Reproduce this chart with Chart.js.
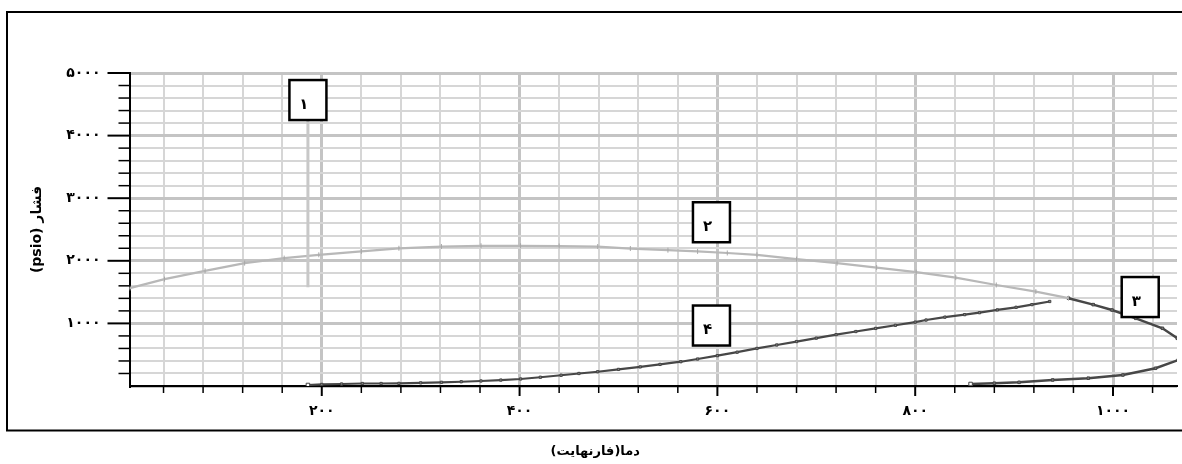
<!DOCTYPE html>
<html><head><meta charset="utf-8">
<script src="https://cdn.jsdelivr.net/npm/chart.js@4/dist/chart.umd.min.js"></script>
<style>html,body{margin:0;padding:0;background:#fff;overflow:hidden}</style>
</head><body>
<canvas id="c" width="1182" height="464"></canvas>
<script>
// ---- data ----
const xTickValues = [40,80,120,160,200,240,280,320,360,400,440,480,520,560,600,640,680,720,760,800,840,880,920,960,1000,1040];
const xTickLabels = {200:'۲۰۰',400:'۴۰۰',600:'۶۰۰',800:'۸۰۰',1000:'۱۰۰۰'};
const yTickLabels = {1000:'۱۰۰۰',2000:'۲۰۰۰',3000:'۳۰۰۰',4000:'۴۰۰۰',5000:'۵۰۰۰'};
const xTitle = 'دما(فارنهایت)';
const yTitle = '(psio) فشار';

const line1X = [186, 186];
const line1Y = [1576, 4400];

const curve2X = [0, 6, 41, 82, 122, 162, 197, 240, 278, 321, 361, 401, 440, 479, 512, 550, 580, 610, 640, 680, 721, 761, 801, 841, 882, 922, 955];
const curve2Y = [1543, 1563, 1707, 1840, 1963, 2043, 2096, 2150, 2200, 2228, 2240, 2240, 2236, 2228, 2196, 2170, 2150, 2125, 2096, 2027, 1963, 1892, 1818, 1731, 1614, 1508, 1403];

const curve3X = [955, 980, 999, 1023, 1050, 1065, 1078, 1082, 1078, 1066, 1043, 1010, 975, 939, 905, 880, 856];
const curve3Y = [1403, 1300, 1214, 1081, 922, 762, 640, 560, 480, 415, 283, 176, 125, 96, 59, 45, 32];

const curve4X = [186, 200, 220, 241, 260, 278, 300, 321, 341, 361, 381, 401, 421, 442, 460, 479, 500, 522, 542, 563, 580, 600, 620, 640, 660, 680, 700, 720, 740, 760, 780, 800, 811, 830, 850, 865, 883, 902, 918, 936];
const curve4Y = [16, 25, 32, 40, 40, 42, 50, 59, 68, 80, 95, 112, 140, 172, 200, 228, 265, 305, 345, 388, 431, 485, 540, 600, 655, 710, 765, 820, 870, 920, 970, 1020, 1054, 1100, 1140, 1171, 1215, 1257, 1300, 1350];

const boxLabels = ['۱', '۲', '۳', '۴'];
const boxX = [186, 594, 1027.5, 594];
const boxY = [4568, 2616, 1421, 966];

// ---- helpers ----
const pts = (xs, ys) => xs.map((x, i) => ({x: x, y: ys[i]}));
const FONT = 'DejaVu Sans';

const decor = {
  id: 'decor',
  beforeDraw(chart) {
    const ctx = chart.ctx;
    ctx.save();
    ctx.fillStyle = '#fff';
    ctx.fillRect(0, 0, chart.width, chart.height);
    ctx.strokeStyle = '#000';
    ctx.lineWidth = 2;
    ctx.strokeRect(7, 12, 1220, 418.5);
    ctx.restore();
  },
  afterDatasetsDraw(chart) {
    const ctx = chart.ctx;
    const xs = chart.scales.x, ys = chart.scales.y;
    const area = chart.chartArea;
    ctx.save();
    ctx.strokeStyle = '#000';
    // y tick marks
    ys.ticks.forEach(t => {
      if (t.value === 0) return;
      const py = ys.getPixelForValue(t.value);
      const major = t.value % 1000 === 0;
      ctx.lineWidth = major ? 2 : 1.5;
      ctx.beginPath();
      ctx.moveTo(area.left - (major ? 22 : 11), py);
      ctx.lineTo(area.left, py);
      ctx.stroke();
    });
    // x tick marks
    xs.ticks.forEach(t => {
      const px = xs.getPixelForValue(t.value);
      const major = t.value % 200 === 0;
      ctx.lineWidth = major ? 2 : 1.5;
      ctx.beginPath();
      ctx.moveTo(px, area.bottom);
      ctx.lineTo(px, area.bottom + (major ? 10 : 7));
      ctx.stroke();
    });
    // numbered boxes
    const w = 37, h = 40;
    boxLabels.forEach((lab, i) => {
      const cx = xs.getPixelForValue(boxX[i]);
      const cy = ys.getPixelForValue(boxY[i]);
      ctx.fillStyle = '#fff';
      ctx.fillRect(cx - w / 2, cy - h / 2, w, h);
      ctx.lineWidth = 2.5;
      ctx.strokeStyle = '#000';
      ctx.strokeRect(cx - w / 2, cy - h / 2, w, h);
      ctx.fillStyle = '#000';
      ctx.font = 'bold 15px "' + FONT + '"';
      ctx.textAlign = 'center';
      ctx.textBaseline = 'middle';
      ctx.fillText(lab, cx - 4, cy + 5);
    });
    // x axis title (right-to-left text)
    ctx.direction = 'rtl';
    ctx.font = 'bold 13px "' + FONT + '"';
    ctx.fillStyle = '#000';
    ctx.textBaseline = 'middle';
    ctx.textAlign = 'center';
    ctx.fillText(xTitle, (area.left + area.right) / 2 - 58, chart.height - 12);
    ctx.restore();
  }
};

const gridColor = major => major ? '#c4c4c4' : '#d6d6d6';

new Chart(document.getElementById('c'), {
  type: 'scatter',
  data: {
    datasets: [
      {label: '1', data: pts(line1X, line1Y), showLine: true, borderColor: '#c8c8c8', borderWidth: 3, pointRadius: 0},
      {label: '2', data: pts(curve2X, curve2Y), showLine: true, borderColor: '#b8b8b8', borderWidth: 2.2,
        pointStyle: 'line', rotation: 90, pointRadius: 2.5, pointBorderColor: '#a8a8a8', pointBorderWidth: 1},
      {label: '3', data: pts(curve3X, curve3Y), showLine: true, borderColor: '#474747', borderWidth: 2.5,
        pointStyle: 'rect', pointRadius: c => c.dataIndex === curve3X.length - 1 ? 2.5 : 1.8,
        pointBackgroundColor: c => c.dataIndex === curve3X.length - 1 ? '#fff' : '#777', pointBorderColor: '#444', pointBorderWidth: 1},
      {label: '4', data: pts(curve4X, curve4Y), showLine: true, borderColor: '#474747', borderWidth: 2.2,
        pointStyle: 'rect', pointRadius: c => c.dataIndex === 0 ? 2.5 : 1.6,
        pointBackgroundColor: c => c.dataIndex === 0 ? '#fff' : '#888', pointBorderColor: '#444', pointBorderWidth: 1}
    ]
  },
  options: {
    responsive: false,
    animation: false,
    devicePixelRatio: 1,
    layout: {padding: {top: 73, left: 0, right: 0, bottom: 19.8}},
    plugins: {
      legend: {display: false},
      tooltip: {enabled: false},
      title: {display: false}
    },
    scales: {
      x: {
        type: 'linear', position: 'bottom', min: 5.6, max: 1064.7,
        afterBuildTicks: s => { s.ticks = xTickValues.map(v => ({value: v})); },
        afterFit: s => { s.height = 58.2; },
        ticks: {callback: v => xTickLabels[v] || '', color: '#000', padding: 17, autoSkip: false, maxRotation: 0,
          font: {family: FONT, size: 14, weight: 'bold'}},
        grid: {drawTicks: false,
          color: c => gridColor(c.tick && c.tick.value % 200 === 0),
          lineWidth: c => (c.tick && c.tick.value % 200 === 0) ? 3 : 2},
        border: {color: '#000', width: 2}
      },
      y: {
        type: 'linear', min: 0, max: 5000,
        afterBuildTicks: s => { const a = []; for (let v = 0; v <= 5000; v += 200) a.push({value: v}); s.ticks = a; },
        afterFit: s => { s.width = 129.5; },
        ticks: {callback: v => yTickLabels[v] || '', color: '#000', padding: 29, autoSkip: false,
          font: {family: FONT, size: 14, weight: 'bold'}},
        grid: {drawTicks: false,
          color: c => gridColor(c.tick && c.tick.value % 1000 === 0),
          lineWidth: c => (c.tick && c.tick.value % 1000 === 0) ? 3 : 2},
        border: {color: '#000', width: 2},
        title: {display: true, text: yTitle, color: '#000', font: {family: FONT, size: 14, weight: 'bold'},
          padding: {top: 28.6, bottom: 0}}
      }
    }
  },
  plugins: [decor]
});
</script>
</body></html>
